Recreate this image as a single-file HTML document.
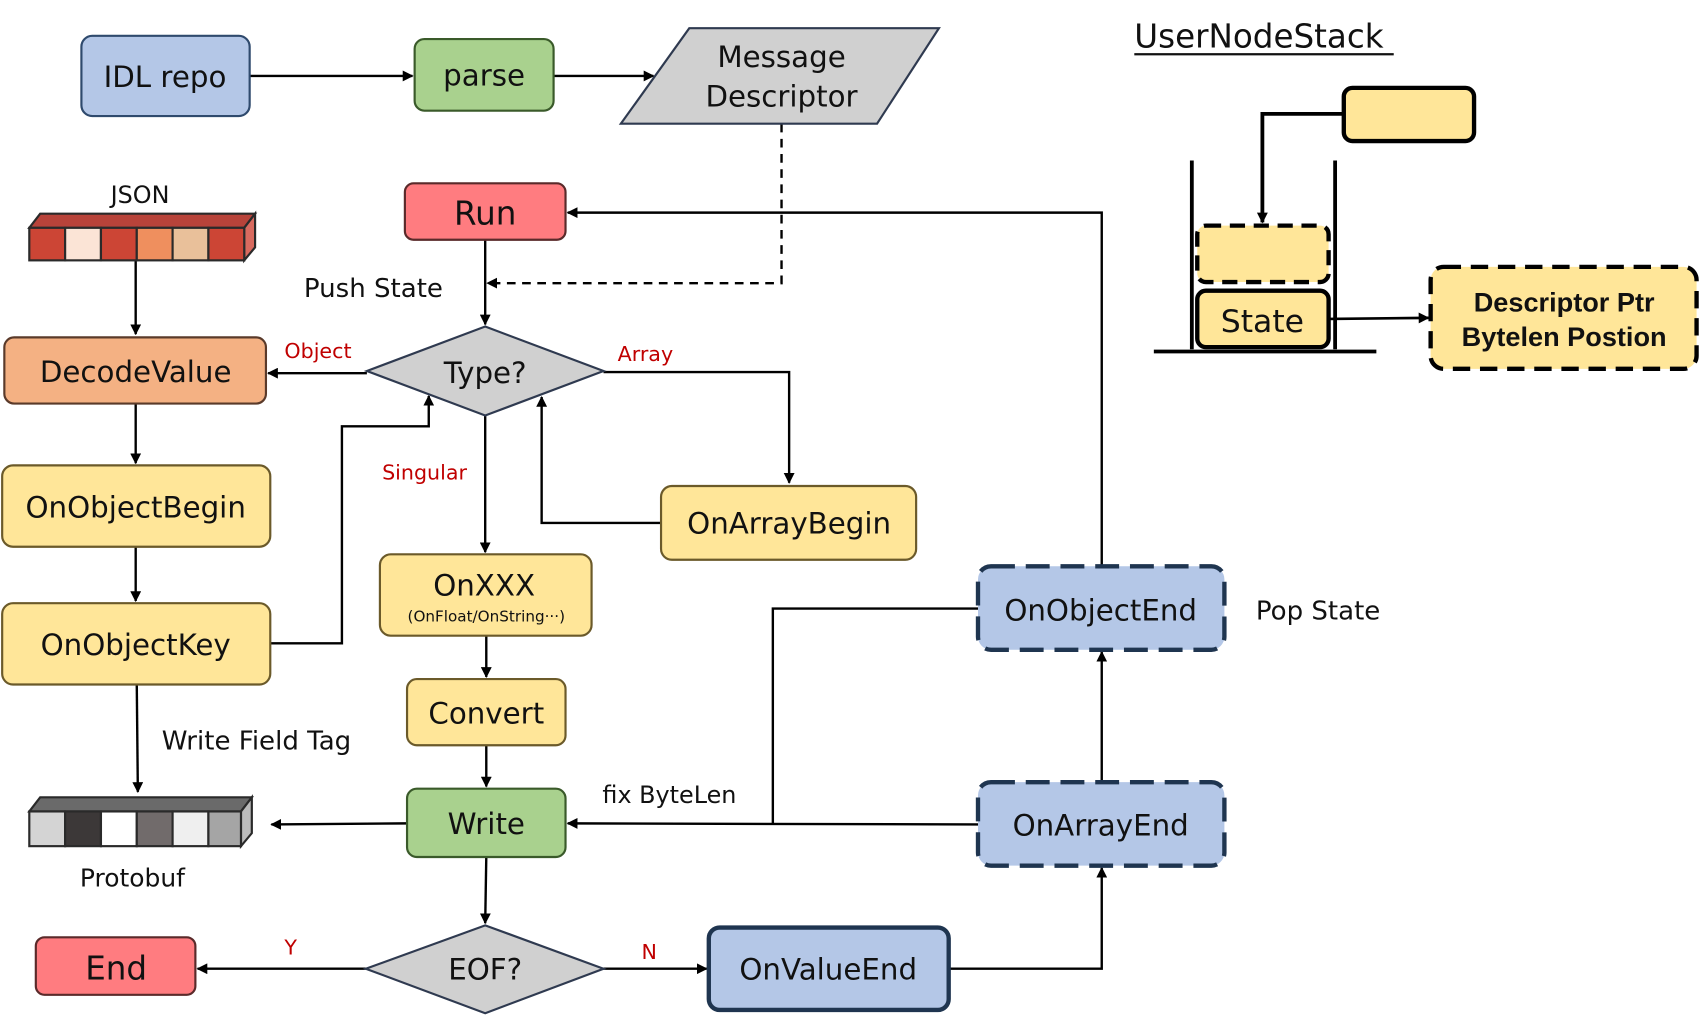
<!DOCTYPE html>
<html><head><meta charset="utf-8"><style>
html,body{margin:0;padding:0;background:#fff;}
svg{display:block}
text{font-family:"DejaVu Sans","Liberation Sans",sans-serif;}
</style></head><body>
<svg width="1702" height="1036" viewBox="0 0 1568 955" preserveAspectRatio="none" xmlns="http://www.w3.org/2000/svg">
<defs>
<marker id="a" markerWidth="10" markerHeight="10" refX="9" refY="5" orient="auto" markerUnits="userSpaceOnUse"><path d="M0,0 L10,5 L0,10 Z" fill="#000"/></marker>
</defs>
<g stroke="#000" stroke-width="2.2" fill="none">
<path d="M230,70 L380,70" marker-end="url(#a)"/>
<path d="M510,70 L602,70" marker-end="url(#a)"/>
<path d="M720,114 L720,261 L449,261" stroke-dasharray="8,6" marker-end="url(#a)"/>
<path d="M447,221 L447,299" marker-end="url(#a)"/>
<path d="M1015,522 L1015,196 L523,196" marker-end="url(#a)"/>
<path d="M338,344 L247,344" marker-end="url(#a)"/>
<path d="M556,343 L727,343 L727,445" marker-end="url(#a)"/>
<path d="M447,383 L447,509" marker-end="url(#a)"/>
<path d="M609,482 L499,482 L499,366" marker-end="url(#a)"/>
<path d="M249,593 L315,593 L315,393 L395,393 L395,365" marker-end="url(#a)"/>
<path d="M125,240 L125,308" marker-end="url(#a)"/>
<path d="M125,372 L125,427" marker-end="url(#a)"/>
<path d="M125,504 L125,554" marker-end="url(#a)"/>
<path d="M126,631 L127,730" marker-end="url(#a)"/>
<path d="M448,586 L448,624" marker-end="url(#a)"/>
<path d="M448,687 L448,725" marker-end="url(#a)"/>
<path d="M375,759 L250,760" marker-end="url(#a)"/>
<path d="M448,790 L447,851" marker-end="url(#a)"/>
<path d="M337,893 L182,893" marker-end="url(#a)"/>
<path d="M556,893 L651,893" marker-end="url(#a)"/>
<path d="M874,893 L1015,893 L1015,800" marker-end="url(#a)"/>
<path d="M1015,721 L1015,601" marker-end="url(#a)"/>
<path d="M901,760 L523,759" marker-end="url(#a)"/>
<path d="M901,561 L712,561 L712,759"/>
<path d="M1238,105 L1163,105 L1163,205" stroke-width="3.5" marker-end="url(#a)"/>
<path d="M1098,148 L1098,322 M1230,148 L1230,322 M1063,324 L1268,324" stroke-width="3.5"/>
<path d="M1224,294 L1316,293" stroke-width="2.5" marker-end="url(#a)"/>
</g>
<g stroke-width="2">
<rect x="75" y="33" width="155" height="74" rx="10" fill="#b4c7e7" stroke="#2f4a6d"/>
<rect x="382" y="36" width="128" height="66" rx="9" fill="#a9d18e" stroke="#3a5a2a"/>
<polygon points="572,114 635,26 865,26 808,114" fill="#d0d0d0" stroke="#2f3a50"/>
<rect x="373" y="169" width="148" height="52" rx="8" fill="#ff7c80" stroke="#5a2a2a"/>
<rect x="4" y="311" width="241" height="61" rx="9" fill="#f4b183" stroke="#5a3a2a"/>
<polygon points="338,342 447,301 556,342 447,383" fill="#d0d0d0" stroke="#2f3a50"/>
<rect x="2" y="429" width="247" height="75" rx="10" fill="#ffe699" stroke="#6b5a2a"/>
<rect x="2" y="556" width="247" height="75" rx="10" fill="#ffe699" stroke="#6b5a2a"/>
<rect x="350" y="511" width="195" height="75" rx="10" fill="#ffe699" stroke="#6b5a2a"/>
<rect x="609" y="448" width="235" height="68" rx="10" fill="#ffe699" stroke="#6b5a2a"/>
<rect x="375" y="626" width="146" height="61" rx="9" fill="#ffe699" stroke="#6b5a2a"/>
<rect x="375" y="727" width="146" height="63" rx="9" fill="#a9d18e" stroke="#3a5a2a"/>
<polygon points="337,893 447,853 556,893 447,934" fill="#d0d0d0" stroke="#2f3a50"/>
<rect x="33" y="864" width="147" height="53" rx="8" fill="#ff7c80" stroke="#5a2a2a"/>
<rect x="653" y="855" width="221" height="76" rx="10" fill="#b4c7e7" stroke="#1f3550" stroke-width="4"/>
<rect x="901" y="721" width="227" height="77" rx="12" fill="#b4c7e7" stroke="#1f3550" stroke-width="4" stroke-dasharray="22,10"/>
<rect x="901" y="522" width="227" height="77" rx="12" fill="#b4c7e7" stroke="#1f3550" stroke-width="4" stroke-dasharray="22,10"/>
<rect x="1238" y="81" width="120" height="49" rx="8" fill="#ffe699" stroke="#000" stroke-width="4"/>
<rect x="1103" y="208" width="121" height="52" rx="8" fill="#ffe699" stroke="#000" stroke-width="4" stroke-dasharray="14,8"/>
<rect x="1103" y="268" width="121" height="52" rx="8" fill="#ffe699" stroke="#000" stroke-width="4"/>
<rect x="1318" y="246" width="245" height="94" rx="12" fill="#ffe699" stroke="#000" stroke-width="4" stroke-dasharray="16,9"/>
</g>
<g stroke="#2a2a2a" stroke-width="2">
<polygon points="27,210 37,197 235,197 225,210" fill="#b8433a"/>
<polygon points="225,210 235,197 235,228 225,240" fill="#d86a5f"/>
<rect x="27" y="210" width="33" height="30" fill="#cc4535"/>
<rect x="60" y="210" width="33" height="30" fill="#fbe4d6"/>
<rect x="93" y="210" width="33" height="30" fill="#cc4535"/>
<rect x="126" y="210" width="33" height="30" fill="#ef8f5e"/>
<rect x="159" y="210" width="33" height="30" fill="#e9c09a"/>
<rect x="192" y="210" width="33" height="30" fill="#cc4535"/>
<polygon points="27,748 37,735 232,735 222,748" fill="#6a6a6a"/>
<polygon points="222,748 232,735 232,768 222,780" fill="#bbb"/>
<rect x="27" y="748" width="33" height="32" fill="#d4d4d4"/>
<rect x="60" y="748" width="33" height="32" fill="#3c3838"/>
<rect x="93" y="748" width="33" height="32" fill="#fff"/>
<rect x="126" y="748" width="33" height="32" fill="#716b6b"/>
<rect x="159" y="748" width="33" height="32" fill="#efefef"/>
<rect x="192" y="748" width="30" height="32" fill="#a5a5a5"/>
</g>
<g font-size="27" fill="#111" text-anchor="middle">
<text x="152" y="80">IDL repo</text>
<text x="446" y="79">parse</text>
<text x="720" y="62">Message</text>
<text x="720" y="98">Descriptor</text>
<text x="447" y="207" font-size="30">Run</text>
<text x="125" y="352">DecodeValue</text>
<text x="447" y="353">Type?</text>
<text x="125" y="477">OnObjectBegin</text>
<text x="125" y="604">OnObjectKey</text>
<text x="446" y="549">OnXXX</text>
<text x="448" y="573" font-size="14">(OnFloat/OnString···)</text>
<text x="727" y="492">OnArrayBegin</text>
<text x="448" y="667">Convert</text>
<text x="448" y="769">Write</text>
<text x="447" y="903">EOF?</text>
<text x="107" y="903" font-size="30">End</text>
<text x="763" y="903">OnValueEnd</text>
<text x="1014" y="770">OnArrayEnd</text>
<text x="1014" y="572">OnObjectEnd</text>
<text x="1163" y="306" font-size="29">State</text>
<text x="1441" y="287" font-size="25" font-weight="bold" style="font-family:'Liberation Sans',sans-serif">Descriptor Ptr</text>
<text x="1441" y="319" font-size="25" font-weight="bold" style="font-family:'Liberation Sans',sans-serif">Bytelen Postion</text>
<text x="129" y="187" font-size="22">JSON</text>
<text x="122" y="817" font-size="23">Protobuf</text>
</g>
<g font-size="24" fill="#111">
<text x="280" y="274">Push State</text>
<text x="149" y="691">Write Field Tag</text>
<text x="555" y="740" font-size="22">fix ByteLen</text>
<text x="1157" y="571">Pop State</text>
<text x="1045" y="44" font-size="30">UserNodeStack</text>
</g>
<line x1="1045" y1="50" x2="1284" y2="50" stroke="#111" stroke-width="2"/>
<g font-size="19" fill="#c00000">
<text x="262" y="330">Object</text>
<text x="569" y="333">Array</text>
<text x="352" y="442">Singular</text>
<text x="262" y="880">Y</text>
<text x="591" y="884">N</text>
</g>
</svg>
</body></html>
